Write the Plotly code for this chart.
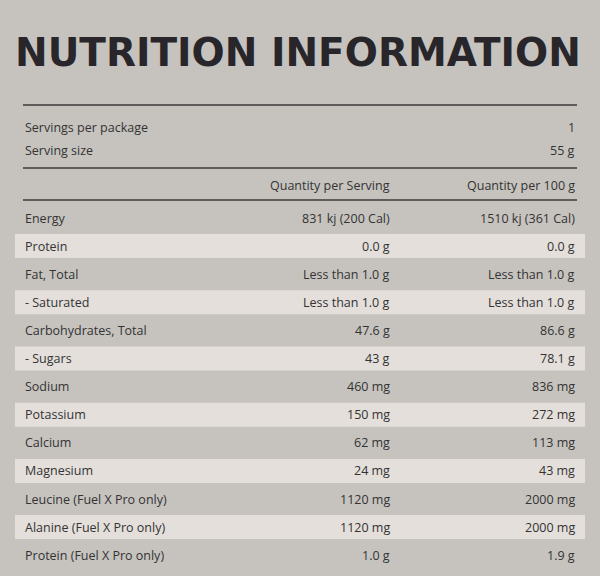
import plotly.graph_objects as go

title = "NUTRITION INFORMATION"
top_labels = ["Servings per package", "Serving size"]
top_values = ["1", "55 g"]
headers = ["Quantity per Serving", "Quantity per 100 g"]
nutrients = ["Energy", "Protein", "Fat, Total", "- Saturated", "Carbohydrates, Total", "- Sugars",
             "Sodium", "Potassium", "Calcium", "Magnesium", "Leucine (Fuel X Pro only)",
             "Alanine (Fuel X Pro only)", "Protein (Fuel X Pro only)"]
per_serving = ["831 kj (200 Cal)", "0.0 g", "Less than 1.0 g", "Less than 1.0 g", "47.6 g", "43 g",
               "460 mg", "150 mg", "62 mg", "24 mg", "1120 mg", "1120 mg", "1.0 g"]
per_100g = ["1510 kj (361 Cal)", "0.0 g", "Less than 1.0 g", "Less than 1.0 g", "86.6 g", "78.1 g",
            "836 mg", "272 mg", "113 mg", "43 mg", "2000 mg", "2000 mg", "1.9 g"]

BG = "#c6c3bf"
HL = "#e4dfdb"
TXT = "#333333"
F = "Open Sans"
fs = 12.5

fig = go.Figure()
shapes = []
ann = []
ann.append(dict(x=298, y=52, text=f"<b>{title}</b>", showarrow=False,
                font=dict(family="DejaVu Sans", size=39, color="#28262a"), xanchor="center", yanchor="middle"))
for y in [105, 168, 200]:
    shapes.append(dict(type="line", x0=23, x1=577, y0=y, y1=y, line=dict(color="#3a3a3a", width=1.5), layer="above"))
for i, (l, v) in enumerate(zip(top_labels, top_values)):
    y = 127 + i * 23
    ann.append(dict(x=23, y=y, text=l, xanchor="left", showarrow=False, font=dict(family=F, size=fs, color=TXT)))
    ann.append(dict(x=577, y=y, text=v, xanchor="right", showarrow=False, font=dict(family=F, size=fs, color=TXT)))
for x, h in zip([392, 577], headers):
    ann.append(dict(x=x, y=185, text=h, xanchor="right", showarrow=False, font=dict(family=F, size=fs, color=TXT)))
for i, (n, a, b) in enumerate(zip(nutrients, per_serving, per_100g)):
    y = 218 + i * 28.1
    if i % 2 == 1:
        shapes.append(dict(type="rect", x0=15, x1=585, y0=y - 12, y1=y + 12, fillcolor=HL, line=dict(width=0), layer="below"))
    ann.append(dict(x=23, y=y, text=n, xanchor="left", showarrow=False, font=dict(family=F, size=fs, color=TXT)))
    ann.append(dict(x=392, y=y, text=a, xanchor="right", showarrow=False, font=dict(family=F, size=fs, color=TXT)))
    ann.append(dict(x=577, y=y, text=b, xanchor="right", showarrow=False, font=dict(family=F, size=fs, color=TXT)))

fig.update_layout(width=600, height=576, margin=dict(l=0, r=0, t=0, b=0),
                  paper_bgcolor=BG, plot_bgcolor=BG, shapes=shapes, annotations=ann,
                  xaxis=dict(range=[0, 600], visible=False, fixedrange=True),
                  yaxis=dict(range=[576, 0], visible=False, fixedrange=True), showlegend=False)
fig.write_html("out.html", config={"displayModeBar": False},
               post_script="document.body.style.margin='0';document.body.style.background='#c6c3bf';")
